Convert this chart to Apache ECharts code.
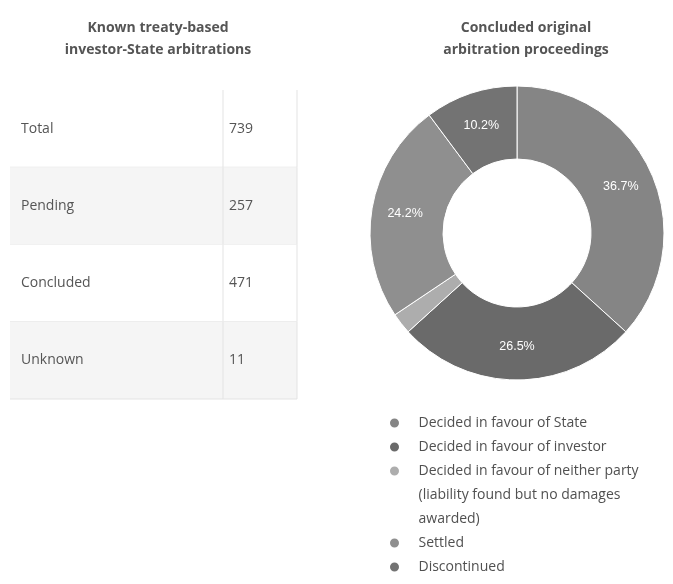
<!DOCTYPE html>
<html>
<head>
<meta charset="utf-8">
<script src="https://cdn.jsdelivr.net/npm/echarts@6/dist/echarts.min.js"></script>
<style>
  html, body { margin: 0; padding: 0; background: #fff; }
  #chart { width: 673px; height: 584px; }
</style>
</head>
<body>
<div id="chart"></div>
<script>
// table data
const tableRows = ['Total', 'Pending', 'Concluded', 'Unknown']
const tableValues = [739, 257, 471, 11]

// donut data (concluded cases by outcome)
const outcomeNames = [
  'Decided in favour of State',
  'Decided in favour of investor',
  'Decided in favour of neither party (liability found but no damages awarded)',
  'Settled',
  'Discontinued'
]
const outcomeCounts = [173, 125, 11, 114, 48]

const outcomeColors = ['#858585', '#6a6a6a', '#adadad', '#8f8f8f', '#737373']
const TextColor = '#555'
const LineColor = '#e3e3e3'
const splitAt = 213 / 287 // where the value column starts
const outcomeTotal = outcomeCounts.reduce((a, b) => a + b, 0)

const chart = echarts.init(document.getElementById('chart'), null, { renderer: 'canvas' })

const legendText = {
  fontFamily: 'Open Sans',
  fontSize: 14,
  color: '#505050',
  lineHeight: 24
}
const legendBase = {
  orient: 'vertical',
  left: 388,
  padding: 0,
  itemGap: 0,
  itemWidth: 38,
  itemHeight: 11,
  icon: 'circle',
  selectedMode: false,
  textStyle: legendText
}

const option = {
  animation: false,
  title: [
    {
      text: 'Known treaty-based\ninvestor-State arbitrations',
      left: 153,
      top: 12,
      textAlign: 'center',
      textStyle: { fontFamily: 'Open Sans', fontWeight: 'bold', fontSize: 14, color: TextColor, lineHeight: 22 }
    },
    {
      text: 'Concluded original\narbitration proceedings',
      left: 521,
      top: 12,
      textAlign: 'center',
      textStyle: { fontFamily: 'Open Sans', fontWeight: 'bold', fontSize: 14, color: TextColor, lineHeight: 22 }
    }
  ],
  grid: { left: 10, top: 90, width: 287, height: 309 },
  xAxis: { type: 'value', min: 0, max: 1, show: false },
  yAxis: { type: 'category', data: tableRows, inverse: true, show: false },
  legend: [
    Object.assign({}, legendBase, { top: 411, data: outcomeNames.slice(0, 2) }),
    Object.assign({}, legendBase, {
      top: 411,
      data: outcomeNames.slice(2, 3),
      // push the wrapped text down so the dot sits on the first line
      formatter: () => '\n\nDecided in favour of neither party\n(liability found but no damages\nawarded)'
    }),
    Object.assign({}, legendBase, { top: 531, data: outcomeNames.slice(3) })
  ],
  series: [
    {
      type: 'custom',
      coordinateSystem: 'cartesian2d',
      silent: true,
      data: tableRows.map((r, i) => [0, i, tableValues[i]]),
      renderItem: (params, api) => {
        const i = api.value(1)
        const c = api.coord([0, i])
        const band = api.size([0, 1])[1]
        const x0 = params.coordSys.x
        const w = params.coordSys.width
        const y0 = c[1] - band / 2
        const xs = api.coord([splitAt, i])[0]
        return {
          type: 'group',
          children: [
            { type: 'rect', shape: { x: x0, y: y0, width: w, height: band }, style: { fill: i % 2 ? '#f5f5f5' : '#fff' } },
            { type: 'line', shape: { x1: x0, y1: y0 + band, x2: x0 + w, y2: y0 + band }, style: { stroke: LineColor, lineWidth: 1 } },
            { type: 'line', shape: { x1: xs, y1: y0, x2: xs, y2: y0 + band }, style: { stroke: LineColor, lineWidth: 1 } },
            { type: 'line', shape: { x1: x0 + w, y1: y0, x2: x0 + w, y2: y0 + band }, style: { stroke: LineColor, lineWidth: 1 } },
            {
              type: 'text',
              style: {
                x: x0 + 11, y: c[1], text: tableRows[i], fill: TextColor,
                font: '14px "Open Sans"', verticalAlign: 'middle'
              }
            },
            {
              type: 'text',
              style: {
                x: xs + 6, y: c[1], text: String(api.value(2)), fill: TextColor,
                font: '14px "Open Sans"', verticalAlign: 'middle'
              }
            }
          ]
        }
      }
    },
    {
      name: 'Concluded',
      type: 'pie',
      center: [517, 233],
      radius: [74, 147],
      startAngle: 90,
      itemStyle: { borderColor: '#fff', borderWidth: 1 },
      label: {
        position: 'inside',
        color: '#fff',
        fontSize: 12.5,
        fontFamily: 'Liberation Sans',
        formatter: (p) => {
          const pct = (p.value / outcomeTotal) * 100
          return pct < 5 ? '' : pct.toFixed(1) + '%'
        }
      },
      labelLine: { show: false },
      emphasis: { disabled: true },
      data: outcomeNames.map((n, i) => ({
        name: n,
        value: outcomeCounts[i],
        itemStyle: { color: outcomeColors[i] }
      }))
    }
  ]
}

chart.setOption(option)
window.addEventListener('resize', function () {
  chart.resize()
})
</script>
</body>
</html>
